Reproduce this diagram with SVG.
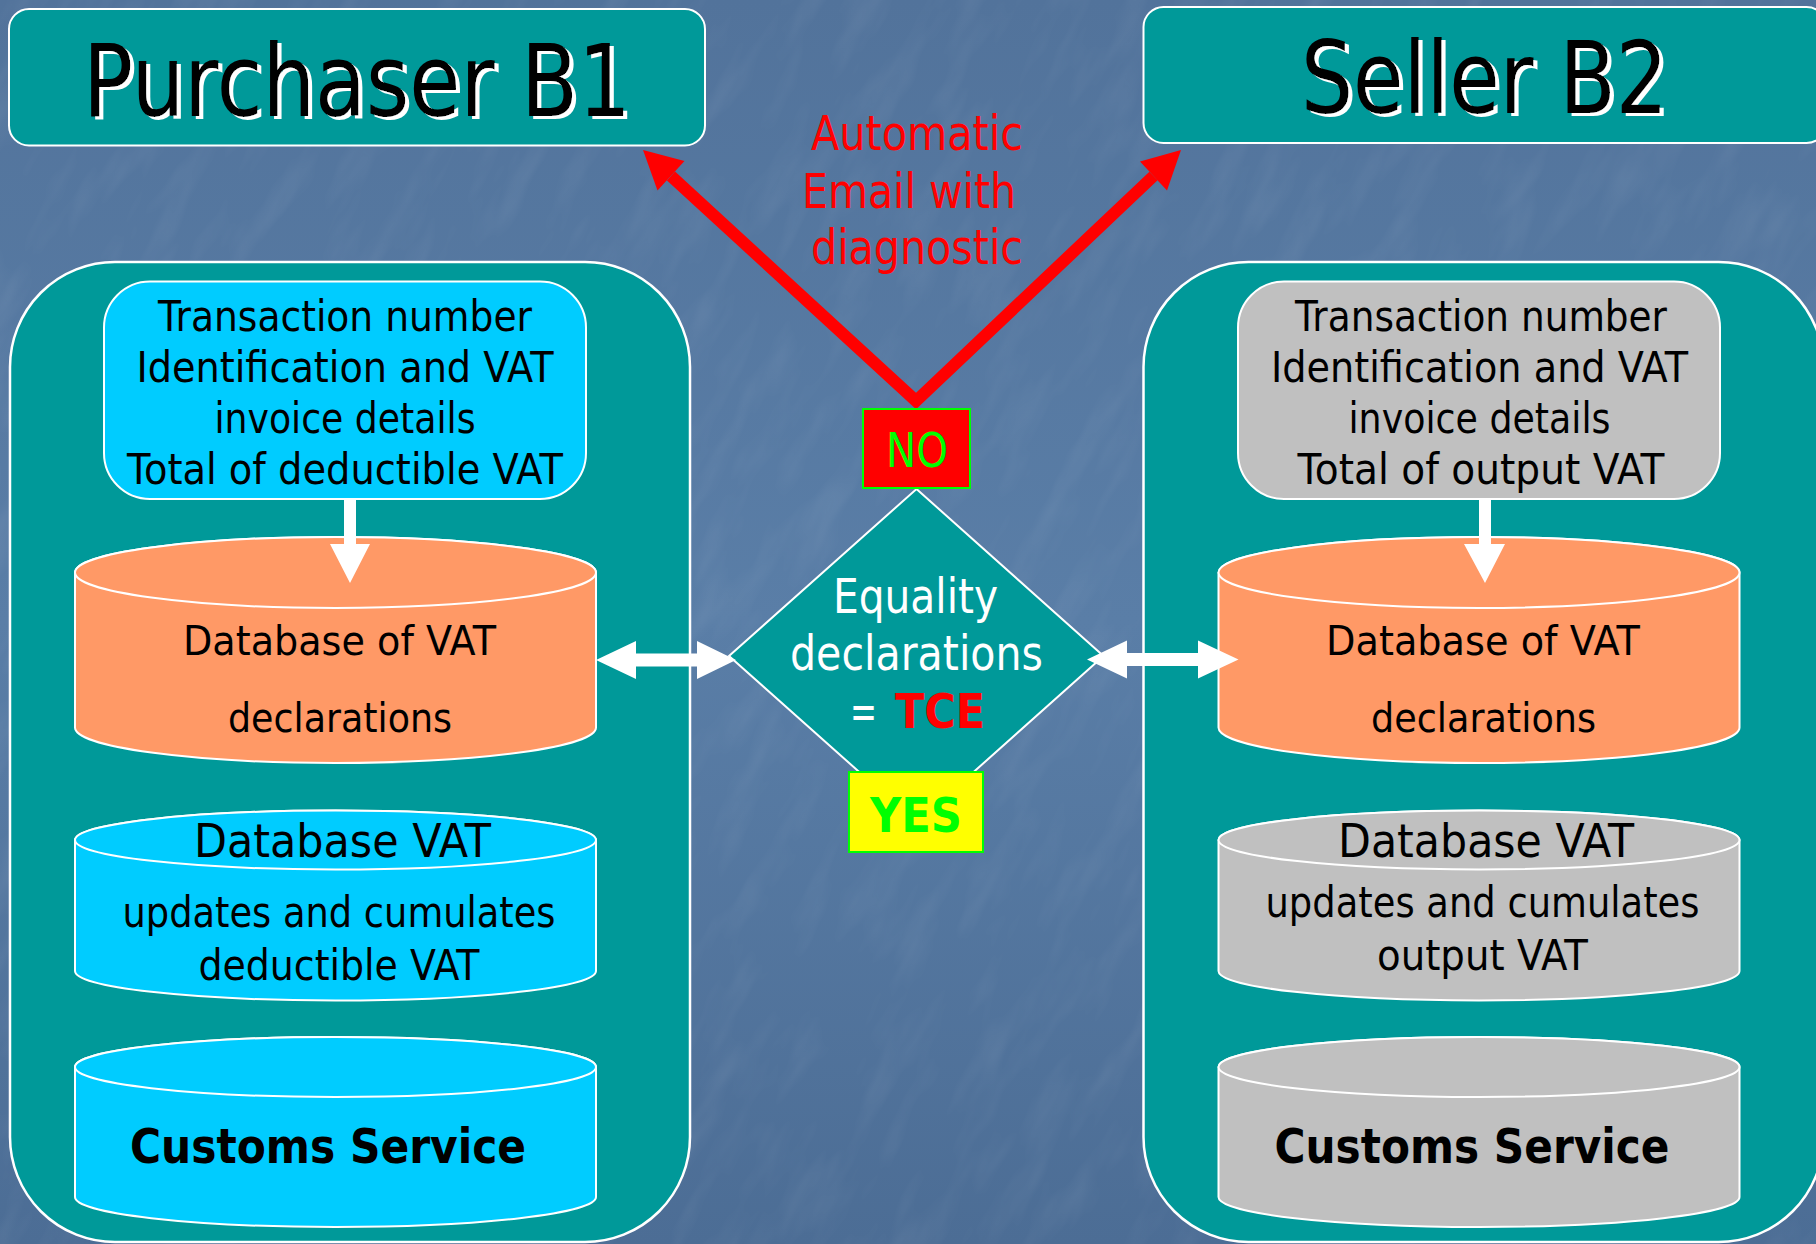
<svg xmlns="http://www.w3.org/2000/svg" width="1816" height="1244" viewBox="0 0 1816 1244">
<defs>
  <linearGradient id="bg" x1="0" y1="0" x2="0" y2="1">
    <stop offset="0" stop-color="#52739B"/>
    <stop offset="0.5" stop-color="#5A7EA7"/>
    <stop offset="1" stop-color="#4C6D95"/>
  </linearGradient>
  <filter id="tex" x="0" y="0" width="100%" height="100%">
    <feTurbulence type="fractalNoise" baseFrequency="0.01 0.035" numOctaves="3" seed="7" result="n"/>
    <feColorMatrix in="n" type="matrix" values="0 0 0 0 1  0 0 0 0 1  0 0 0 0 1  0 0 0 1.2 -0.55"/>
  </filter>
  <filter id="shadow" x="-5%" y="-10%" width="110%" height="130%">
    <feOffset in="SourceAlpha" dx="4" dy="3" result="off"/>
    <feFlood flood-color="#FFFFFF"/>
    <feComposite in2="off" operator="in" result="sh"/>
    <feMerge>
      <feMergeNode in="sh"/>
      <feMergeNode in="SourceGraphic"/>
    </feMerge>
  </filter>
  <style>
    .cont { fill: #009999; stroke: #FFFFFF; stroke-width: 2.5; }
    .title-box { fill: #009999; stroke: #FFFFFF; stroke-width: 2; }
    .info-b { fill: #00CCFF; stroke: #FFFFFF; stroke-width: 2; }
    .info-s { fill: #C0C0C0; stroke: #FFFFFF; stroke-width: 2; }
    .cyl-o { fill: #FF9966; stroke: #FFFFFF; stroke-width: 2; }
    .cyl-b { fill: #00CCFF; stroke: #FFFFFF; stroke-width: 2; }
    .cyl-s { fill: #C0C0C0; stroke: #FFFFFF; stroke-width: 2; }
    text { font-family: "DejaVu Sans", "Liberation Sans", sans-serif; text-anchor: middle; }
    .title { font-size: 99px; fill: #000000; filter: url(#shadow); }
    .t42 { font-size: 42.5px; fill: #000000; }
    .t41 { font-size: 41px; fill: #000000; }
    .t46 { font-size: 46.5px; fill: #000000; }
    .t43 { font-size: 43px; fill: #000000; }
    .cs { font-size: 48px; font-weight: bold; fill: #000000; }
    .red { font-size: 48px; fill: #FF0000; }
    .white48 { font-size: 48px; fill: #FFFFFF; }
    .tce { font-size: 48px; font-weight: bold; fill: #FF0000; }
    .no { font-size: 48px; fill: #00FF00; }
    .yes { font-size: 48px; font-weight: bold; fill: #00FF00; }
    .warrow { fill: #FFFFFF; }
    .rline { fill: none; stroke: #FF0000; stroke-width: 12; stroke-linejoin: miter; stroke-miterlimit: 10; }
    .rhead { fill: #FF0000; }
  </style>
</defs>

<g id="background">
  <rect x="0" y="0" width="1816" height="1244" fill="url(#bg)"/>
  <g transform="rotate(-62 908 622)">
    <rect x="-600" y="-600" width="3016" height="2444" filter="url(#tex)" opacity="0.1"/>
  </g>
</g>

<g id="purchaser-container">
  <rect class="cont" x="10" y="262" width="680" height="980" rx="105" ry="105"/>
</g>
<g id="seller-container">
  <rect class="cont" x="1143.5" y="262" width="680" height="980" rx="105" ry="105"/>
</g>

<g id="purchaser-title">
  <rect class="title-box" x="9" y="9" width="696" height="136.5" rx="20" ry="20"/>
  <text class="title" x="357" y="116" textLength="548" lengthAdjust="spacingAndGlyphs">Purchaser B1</text>
</g>
<g id="seller-title">
  <rect class="title-box" x="1143.5" y="7" width="683" height="136" rx="20" ry="20"/>
  <text class="title" x="1484.5" y="113" textLength="367" lengthAdjust="spacingAndGlyphs">Seller B2</text>
</g>

<g id="purchaser-info">
  <rect class="info-b" x="104" y="281.5" width="482" height="217.5" rx="46" ry="46"/>
  <text class="t42" x="345" y="331" textLength="374" lengthAdjust="spacingAndGlyphs">Transaction number</text>
  <text class="t42" x="345" y="382" textLength="417" lengthAdjust="spacingAndGlyphs">Identification and VAT</text>
  <text class="t42" x="345" y="433" textLength="261" lengthAdjust="spacingAndGlyphs">invoice details</text>
  <text class="t42" x="345" y="484" textLength="436" lengthAdjust="spacingAndGlyphs">Total of deductible VAT</text>
</g>
<g id="seller-info">
  <rect class="info-s" x="1238" y="281.5" width="482" height="217.5" rx="46" ry="46"/>
  <text class="t42" x="1481" y="331" textLength="372" lengthAdjust="spacingAndGlyphs">Transaction number</text>
  <text class="t42" x="1479.5" y="382" textLength="417" lengthAdjust="spacingAndGlyphs">Identification and VAT</text>
  <text class="t42" x="1479.5" y="433" textLength="262" lengthAdjust="spacingAndGlyphs">invoice details</text>
  <text class="t42" x="1481" y="484" textLength="367" lengthAdjust="spacingAndGlyphs">Total of output VAT</text>
</g>

<g id="purchaser-declarations-db">
  <path class="cyl-o" d="M75,572.5 L75,727.5 A260.5,35.5 0 0 0 596,727.5 L596,572.5 A260.5,35.5 0 0 0 75,572.5 Z"/>
  <ellipse class="cyl-o" cx="335.5" cy="572.5" rx="260.5" ry="35.5"/>
  <text class="t41" x="339.5" y="655" textLength="313" lengthAdjust="spacingAndGlyphs">Database of VAT</text>
  <text class="t41" x="340" y="731.5" textLength="224" lengthAdjust="spacingAndGlyphs">declarations</text>
</g>
<g id="seller-declarations-db">
  <path class="cyl-o" d="M1218.5,572.5 L1218.5,727.5 A260.5,35.5 0 0 0 1739.5,727.5 L1739.5,572.5 A260.5,35.5 0 0 0 1218.5,572.5 Z"/>
  <ellipse class="cyl-o" cx="1479" cy="572.5" rx="260.5" ry="35.5"/>
  <text class="t41" x="1483" y="655" textLength="314" lengthAdjust="spacingAndGlyphs">Database of VAT</text>
  <text class="t41" x="1483.5" y="731.5" textLength="225" lengthAdjust="spacingAndGlyphs">declarations</text>
</g>

<g id="purchaser-vat-db">
  <path class="cyl-b" d="M75,840 L75,971 A260.5,29.5 0 0 0 596,971 L596,840 A260.5,29.5 0 0 0 75,840 Z"/>
  <ellipse class="cyl-b" cx="335.5" cy="840" rx="260.5" ry="29.5"/>
  <text class="t46" x="342.5" y="857" textLength="297" lengthAdjust="spacingAndGlyphs">Database VAT</text>
  <text class="t42" x="339" y="927" textLength="433" lengthAdjust="spacingAndGlyphs">updates and cumulates</text>
  <text class="t43" x="339" y="980" textLength="281" lengthAdjust="spacingAndGlyphs">deductible VAT</text>
</g>
<g id="seller-vat-db">
  <path class="cyl-s" d="M1218.5,840 L1218.5,971 A260.5,29.5 0 0 0 1739.5,971 L1739.5,840 A260.5,29.5 0 0 0 1218.5,840 Z"/>
  <ellipse class="cyl-s" cx="1479" cy="840" rx="260.5" ry="29.5"/>
  <text class="t46" x="1486" y="857" textLength="296" lengthAdjust="spacingAndGlyphs">Database VAT</text>
  <text class="t42" x="1482.5" y="917" textLength="434" lengthAdjust="spacingAndGlyphs">updates and cumulates</text>
  <text class="t43" x="1482.5" y="970" textLength="211" lengthAdjust="spacingAndGlyphs">output VAT</text>
</g>

<g id="purchaser-customs">
  <path class="cyl-b" d="M75,1067 L75,1197 A260.5,30 0 0 0 596,1197 L596,1067 A260.5,30 0 0 0 75,1067 Z"/>
  <ellipse class="cyl-b" cx="335.5" cy="1067" rx="260.5" ry="30"/>
  <text class="cs" x="328" y="1163" textLength="396" lengthAdjust="spacingAndGlyphs">Customs Service</text>
</g>
<g id="seller-customs">
  <path class="cyl-s" d="M1218.5,1067 L1218.5,1197 A260.5,30 0 0 0 1739.5,1197 L1739.5,1067 A260.5,30 0 0 0 1218.5,1067 Z"/>
  <ellipse class="cyl-s" cx="1479" cy="1067" rx="260.5" ry="30"/>
  <text class="cs" x="1472" y="1163" textLength="395" lengthAdjust="spacingAndGlyphs">Customs Service</text>
</g>

<g id="equality-decision">
  <polygon points="916.5,489 1103.5,656 916.5,823 729,656" fill="#009999" stroke="#FFFFFF" stroke-width="2"/>
  <text class="white48" x="915.5" y="613" textLength="165" lengthAdjust="spacingAndGlyphs">Equality</text>
  <text class="white48" x="916.5" y="670" textLength="253" lengthAdjust="spacingAndGlyphs">declarations</text>
  <text class="white48" x="863.5" y="728" textLength="27" lengthAdjust="spacingAndGlyphs">=</text>
  <text class="tce" x="940" y="728" textLength="90" lengthAdjust="spacingAndGlyphs">TCE</text>
</g>

<g id="connectors">
  <polyline class="rline" points="671,176 916,401 1153.5,176"/>
  <polygon class="rhead" points="643,150 684.5,161 657.5,190.5"/>
  <polygon class="rhead" points="1181,150 1140,161.5 1167,190.5"/>
  <text class="red" x="917" y="150" textLength="212" lengthAdjust="spacingAndGlyphs">Automatic</text>
  <text class="red" x="909" y="208" textLength="214" lengthAdjust="spacingAndGlyphs">Email with</text>
  <text class="red" x="917" y="264" textLength="212" lengthAdjust="spacingAndGlyphs">diagnostic</text>

  <polygon class="warrow" points="344,499 356,499 356,544 370,544 350,583 330,544 344,544"/>
  <polygon class="warrow" points="1479,499 1491,499 1491,544 1505,544 1485,583 1464,544 1479,544"/>

  <polygon class="warrow" points="596,660 636,641 636,653.5 697,653.5 697,641 736,660 697,679 697,666.5 636,666.5 636,679"/>
  <polygon class="warrow" points="1087,659.5 1127,640.5 1127,653 1198,653 1198,640.5 1238.5,659.5 1198,678.5 1198,666 1127,666 1127,678.5"/>
</g>

<g id="no-label">
  <rect x="863" y="409" width="107" height="79" fill="#FF0000" stroke="#00FF00" stroke-width="2"/>
  <text class="no" x="917" y="467" textLength="62" lengthAdjust="spacingAndGlyphs">NO</text>
</g>
<g id="yes-label">
  <rect x="849" y="772" width="134" height="80" fill="#FFFF00" stroke="#00FF00" stroke-width="2"/>
  <text class="yes" x="916" y="831.5" textLength="92" lengthAdjust="spacingAndGlyphs">YES</text>
</g>
</svg>
